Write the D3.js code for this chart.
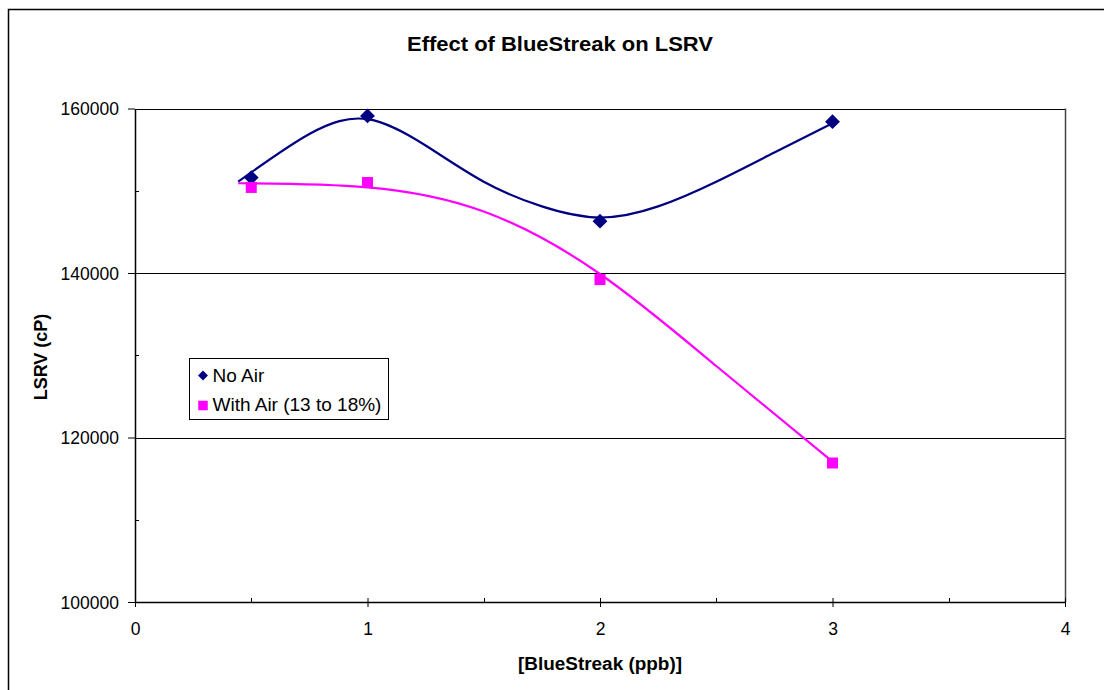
<!DOCTYPE html>
<html>
<head>
<meta charset="utf-8">
<script src="https://cdn.jsdelivr.net/npm/d3@7"></script>
<style>
  html, body { margin: 0; padding: 0; background: #fff; }
  svg text { font-family: "Liberation Sans", Arial, sans-serif; fill: #000; }
</style>
</head>
<body>
<div id="chart"></div>
<script>
// Marker data
const concentrations = [0.5, 1, 2, 3];
const noAir = [151600, 159100, 146300, 158400];
const withAir = [150400, 151000, 139200, 116900];
const seriesNames = ['No Air', 'With Air (13 to 18%)'];

// Smoothed trend curves, knots
const noAirCurveX = [0.444, 0.75, 1, 1.25, 1.5, 1.75, 2, 2.25, 2.5, 2.75, 3];
const noAirCurveY = [151100, 156900, 158700, 155500, 151100, 148100, 146750, 148100, 151100, 154650, 158200];
const withAirCurveX = [0.444, 1, 1.5, 2, 2.5, 3];
const withAirCurveY = [150910, 150420, 147480, 139880, 128690, 117060];

const yTicks = [100000, 120000, 140000, 160000];
const yMinorTicks = [110000, 130000, 150000];
const xTicks = [0, 1, 2, 3, 4];
const xMinorTicks = [0.5, 1.5, 2.5, 3.5];

const width = 1104, height = 690;
const plot = {left: 135, right: 1065, top: 108.5, bottom: 602};

const svg = d3.select('#chart').append('svg')
    .attr('width', width)
    .attr('height', height);

// Outer chart border (cropped at right/bottom)
svg.append('rect')
    .attr('x', 8.5).attr('y', 9.5)
    .attr('width', width).attr('height', height)
    .attr('fill', 'none').attr('stroke', '#000').attr('stroke-width', 1.5);

const x = d3.scaleLinear().domain([0, 4]).range([plot.left, plot.right]);
const y = d3.scaleLinear().domain([100000, 160000]).range([plot.bottom, plot.top]);

// Gridlines
svg.append('g')
    .selectAll('line')
    .data(yTicks.slice(1))
    .join('line')
    .attr('x1', plot.left).attr('x2', plot.right)
    .attr('y1', d => Math.round(y(d)) + 0.5).attr('y2', d => Math.round(y(d)) + 0.5)
    .attr('stroke', '#000').attr('stroke-width', 1);

// Plot area right border
svg.append('line')
    .attr('x1', plot.right + 0.5).attr('x2', plot.right + 0.5)
    .attr('y1', plot.top).attr('y2', plot.bottom)
    .attr('stroke', '#444').attr('stroke-width', 1.5);

// Y axis
const yAxis = svg.append('g')
    .attr('transform', `translate(${plot.left},0)`)
    .call(d3.axisLeft(y).tickValues(yTicks).tickSize(7).tickSizeOuter(0).tickPadding(9).tickFormat(d3.format('d')));
yAxis.select('.domain').attr('stroke', '#000').attr('stroke-width', 1.5);
yAxis.selectAll('.tick line').attr('stroke', '#000');
yAxis.selectAll('.tick text').style('font-size', '17.5px').attr('dy', '0.36em');
svg.append('g')
    .selectAll('line')
    .data(yMinorTicks)
    .join('line')
    .attr('x1', plot.left).attr('x2', plot.left + 4)
    .attr('y1', d => Math.round(y(d)) + 0.5).attr('y2', d => Math.round(y(d)) + 0.5)
    .attr('stroke', '#000');

// X axis
const xAxis = svg.append('g')
    .attr('transform', `translate(0,${plot.bottom})`)
    .call(d3.axisBottom(x).tickValues(xTicks).tickSize(5).tickSizeOuter(0).tickPadding(16).tickFormat(d3.format('d')));
xAxis.select('.domain').attr('stroke', '#000').attr('stroke-width', 1.5);
xAxis.selectAll('.tick line').attr('stroke', '#000').attr('y1', -4);
xAxis.selectAll('.tick text').style('font-size', '17.5px');
svg.append('g')
    .selectAll('line')
    .data(xMinorTicks)
    .join('line')
    .attr('x1', d => Math.round(x(d)) + 0.5).attr('x2', d => Math.round(x(d)) + 0.5)
    .attr('y1', plot.bottom - 4).attr('y2', plot.bottom)
    .attr('stroke', '#000');

const series = [
    {name: seriesNames[0], values: noAir, cx: noAirCurveX, cy: noAirCurveY, color: '#000080', diamond: true},
    {name: seriesNames[1], values: withAir, cx: withAirCurveX, cy: withAirCurveY, color: '#FF00FF', diamond: false}
];

const line = d3.line().x(d => x(d[0])).y(d => y(d[1])).curve(d3.curveNatural);

// Curves
series.forEach(s => {
    svg.append('path')
        .datum(s.cx.map((v, i) => [v, s.cy[i]]))
        .attr('d', line)
        .attr('fill', 'none')
        .attr('stroke', s.color)
        .attr('stroke-width', 2.2);
});

// Markers
function marker(sel, diamond, side) {
    return sel.append('rect')
        .attr('x', -side / 2).attr('y', -side / 2)
        .attr('width', side).attr('height', side)
        .attr('transform', diamond ? 'rotate(45)' : null);
}

series.forEach(s => {
    const g = svg.append('g')
        .selectAll('g')
        .data(concentrations.map((c, i) => [c, s.values[i]]))
        .join('g')
        .attr('transform', d => `translate(${x(d[0])},${y(d[1])})`)
        .attr('fill', s.color);
    g.each(function() { marker(d3.select(this), s.diamond, s.diamond ? 10.5 : 11); });
});

// Legend
const legend = svg.append('g').attr('transform', 'translate(189.5,358.5)');
legend.append('rect')
    .attr('width', 199).attr('height', 61)
    .attr('fill', '#fff').attr('stroke', '#000').attr('stroke-width', 1);
series.forEach((s, i) => {
    const mg = legend.append('g')
        .attr('transform', `translate(13.5,${17 + i * 30})`)
        .attr('fill', s.color);
    marker(mg, s.diamond, s.diamond ? 7 : 9.5);
    legend.append('text')
        .attr('x', 23).attr('y', 23.5 + i * 29)
        .style('font-size', '19px')
        .text(s.name);
});

// Titles
svg.append('text')
    .attr('x', 560).attr('y', 51)
    .attr('text-anchor', 'middle')
    .style('font-size', '20px').style('font-weight', 'bold')
    .attr('textLength', 306).attr('lengthAdjust', 'spacingAndGlyphs')
    .text('Effect of BlueStreak on LSRV');

svg.append('text')
    .attr('x', 600).attr('y', 670)
    .attr('text-anchor', 'middle')
    .style('font-size', '18px').style('font-weight', 'bold')
    .attr('textLength', 164).attr('lengthAdjust', 'spacingAndGlyphs')
    .text('[BlueStreak (ppb)]');

svg.append('text')
    .attr('transform', 'translate(47,357) rotate(-90)')
    .attr('text-anchor', 'middle')
    .style('font-size', '18px').style('font-weight', 'bold')
    .text('LSRV (cP)');
</script>
</body>
</html>
